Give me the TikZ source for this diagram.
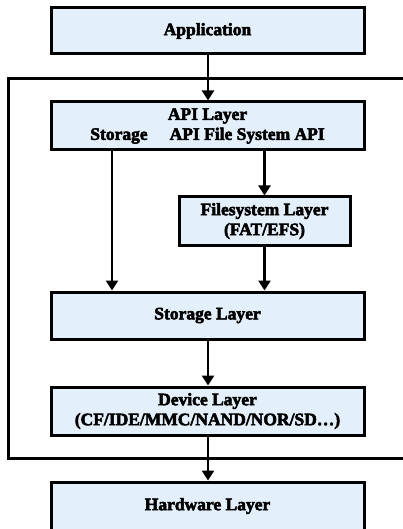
\documentclass[tikz,border=0pt]{standalone}
\usepackage{fontspec}
\setmainfont{Liberation Serif}[BoldFont={Liberation Serif Bold}, BoldFeatures={FakeBold=3}]
\usetikzlibrary{arrows.meta}
\definecolor{boxfill}{RGB}{227,239,250}
\tikzset{
  layerbox/.style={draw=black, line width=3pt, fill=boxfill, inner sep=0pt,
    align=center, font=\fontsize{17.5}{20}\selectfont\bfseries},
  flow/.style={line width=2.6pt, -{Triangle[length=10pt,width=12pt]}},
  frame/.style={line width=3pt}
}
\begin{document}
\begin{tikzpicture}[x=1pt,y=-1pt]
\useasboundingbox (0,0) rectangle (403,529);
\clip (0,0) rectangle (403,529);
\fill[white] (0,0) rectangle (403,529);
% outer frame
\coordinate (frTL) at (8,79);
\coordinate (frBR) at (420,458);
\draw[frame] (frTL) rectangle (frBR);
% boxes
\node[layerbox, minimum width=313pt, minimum height=46pt] (app) at (207.5,31) {Application};
\node[layerbox, minimum width=313pt, minimum height=48pt] (api) at (207.5,126)
  {API Layer\\Storage\hspace{22pt}API File System API};
\node[layerbox, minimum width=171pt, minimum height=48pt] (fs) at (264.5,221)
  {Filesystem Layer\\(FAT/EFS)};
\node[layerbox, minimum width=313pt, minimum height=47pt] (stor) at (207.5,315.5) {Storage Layer};
\node[layerbox, minimum width=313pt, minimum height=48pt] (dev) at (207.5,411)
  {Device Layer\\(CF/IDE/MMC/NAND/NOR/SD\dots)};
\node[layerbox, minimum width=313pt, minimum height=48pt] (hw) at (207.5,506) {Hardware Layer};
% connectors
\draw[flow] (app.south -| 208,0) -- (api.north -| 208,0);
\draw[flow] (api.south -| 112,0) -- (stor.north -| 112,0);
\draw[flow] (api.south -| fs.north) -- (fs.north);
\draw[flow] (fs.south) -- (stor.north -| fs.south);
\draw[flow] (stor.south -| 208,0) -- (dev.north -| 208,0);
\draw[flow] (dev.south -| 208,0) -- (hw.north -| 208,0);
\end{tikzpicture}
\end{document}
